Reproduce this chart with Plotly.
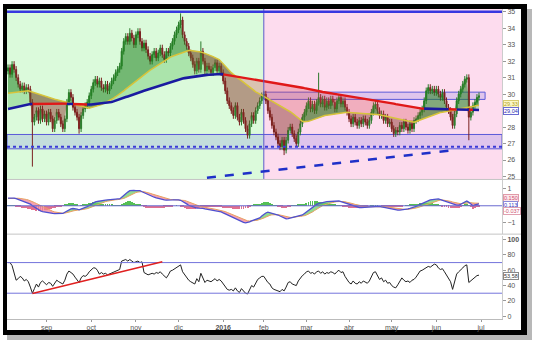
import numpy as np
import pandas as pd
import plotly.graph_objects as go

W, H = 533, 344

# ---------------- data ----------------
HOLIDAYS = ["2015-12-25", "2016-01-01", "2016-03-25", "2016-03-28"]
FIRST_DAY, LAST_DAY = "2015-08-05", "2016-06-30"

close = [
    31.6, 31.2, 31.8, 31.5, 31.0, 30.6, 30.3, 30.5, 30.2, 30.4, 30.3, 29.5, 28.3, 28.6, 29.0, 28.4, 29.1, 28.5, 28.8,
    28.3, 28.9, 28.5, 27.9, 28.4, 28.9, 28.6, 28.2, 27.9, 28.5, 29.5, 30.1, 29.8, 29.2, 28.9, 28.6, 27.9, 28.7, 29.1, 29.3, 29.5, 29.9,
    30.3, 30.7, 30.9, 30.6, 30.8, 30.4, 30.3, 30.6, 30.2, 30.5, 30.8, 31.0, 31.3, 31.5, 31.7, 32.6, 33.2, 33.5, 33.2, 33.7, 33.4, 33.0,
    33.6, 33.8, 33.2, 32.8, 33.1, 32.7, 32.3, 32.0, 32.4, 32.6, 32.2, 32.5, 32.8, 32.4, 32.1, 32.6, 32.5, 32.9, 33.2, 33.6, 33.9,
    34.2, 34.5, 33.6, 33.2, 32.9, 32.5, 32.2, 31.8, 31.4, 32.0, 31.5, 32.6, 32.0, 31.4, 31.7, 31.5, 31.3, 31.6, 31.9, 31.4, 31.7, 31.3,
    30.8, 30.2, 29.6, 29.3, 29.0, 28.7, 29.3, 28.6, 28.3, 28.9, 28.4, 27.9, 27.5, 28.2, 28.7, 28.4, 29.0, 29.3, 29.6, 29.9,
    30.0, 29.6, 29.0, 28.6, 28.1, 27.7, 27.4, 27.0, 26.8, 27.2, 26.6, 27.2, 27.8, 28.0, 27.6, 27.3, 27.0, 27.7, 28.2, 28.6, 28.9,
    29.3, 29.6, 29.1, 29.4, 29.0, 29.5, 29.8, 29.4, 29.7, 29.2, 29.6, 29.3, 29.7, 29.5, 29.1, 29.6, 29.8, 29.4, 29.6, 29.2, 28.9,
    28.5, 28.2, 28.6, 28.3, 28.1, 28.4, 28.2, 28.5, 28.3, 28.1, 28.4, 28.9, 29.3, 29.4, 29.0, 28.7, 28.8, 28.4, 28.6, 28.2, 28.3,
    27.9, 27.6, 27.8, 27.7, 28.1, 27.9, 28.3, 28.0, 27.8, 28.2, 27.9, 28.4, 28.5, 28.7, 28.9, 29.1, 29.6, 30.2, 30.4, 30.2, 30.3, 30.1,
    30.3, 30.0, 29.8, 30.1, 29.6, 29.2, 29.0, 28.6, 28.1, 28.8, 29.6, 30.0, 30.3, 30.6, 30.9, 31.0, 28.6, 28.9, 29.3, 29.5, 29.8, 29.9,
]
open_ = [
    31.4, 31.6, 31.2, 31.8, 31.5, 31.0, 30.6, 30.3, 30.5, 30.2, 30.4, 30.3, 29.5, 28.3, 28.6, 29.0, 28.4, 29.1, 28.5,
    28.8, 28.3, 28.9, 28.5, 27.9, 28.4, 28.9, 28.6, 28.2, 27.9, 28.5, 29.5, 30.1, 29.8, 29.2, 28.9, 28.6, 27.9, 28.7, 29.1, 29.3, 29.5,
    29.9, 30.3, 30.7, 30.9, 30.6, 30.8, 30.4, 30.3, 30.6, 30.2, 30.5, 30.8, 31.0, 31.3, 31.5, 31.7, 32.6, 33.2, 33.5, 33.2, 33.7, 33.4,
    33.0, 33.6, 33.8, 33.2, 32.8, 33.1, 32.7, 32.3, 32.0, 32.4, 32.6, 32.2, 32.5, 32.8, 32.4, 32.1, 32.6, 32.5, 32.9, 33.2, 33.6,
    33.9, 34.2, 34.5, 33.6, 33.2, 32.9, 32.5, 32.2, 31.8, 31.4, 32.0, 31.5, 32.6, 32.0, 31.4, 31.7, 31.5, 31.3, 31.6, 31.9, 31.4, 31.7,
    31.3, 30.8, 30.2, 29.6, 29.3, 29.0, 28.7, 29.3, 28.6, 28.3, 28.9, 28.4, 27.9, 27.5, 28.2, 28.7, 28.4, 29.0, 29.3, 29.6,
    29.9, 30.0, 29.6, 29.0, 28.6, 28.1, 27.7, 27.4, 27.0, 26.8, 27.2, 26.6, 27.2, 27.8, 28.0, 27.6, 27.3, 27.0, 27.7, 28.2, 28.6,
    28.9, 29.3, 29.6, 29.1, 29.4, 29.0, 29.5, 29.8, 29.4, 29.7, 29.2, 29.6, 29.3, 29.7, 29.5, 29.1, 29.6, 29.8, 29.4, 29.6, 29.2,
    28.9, 28.5, 28.2, 28.6, 28.3, 28.1, 28.4, 28.2, 28.5, 28.3, 28.1, 28.4, 28.9, 29.3, 29.4, 29.0, 28.7, 28.8, 28.4, 28.6, 28.2,
    28.3, 27.9, 27.6, 27.8, 27.7, 28.1, 27.9, 28.3, 28.0, 27.8, 28.2, 27.9, 28.4, 28.5, 28.7, 28.9, 29.1, 29.6, 30.2, 30.4, 30.2, 30.3,
    30.1, 30.3, 30.0, 29.8, 30.1, 29.6, 29.2, 29.0, 28.6, 28.1, 28.8, 29.6, 30.0, 30.3, 30.6, 30.9, 31.0, 28.6, 28.9, 29.3, 29.5, 29.8,
]
high = [
    31.8, 31.8, 32.0, 32.0, 31.7, 31.2, 30.8, 30.7, 30.7, 30.6, 30.6, 30.5, 29.7, 28.8, 29.2, 29.2, 29.3, 29.3, 29.0,
    29.0, 29.1, 29.1, 28.7, 28.6, 29.1, 29.1, 28.8, 28.4, 28.7, 29.7, 30.3, 30.3, 30.0, 29.4, 29.1, 28.8, 28.9, 29.3, 29.5, 29.7, 30.1,
    30.5, 30.9, 31.1, 31.1, 31.0, 31.0, 30.6, 30.8, 30.8, 30.7, 31.0, 31.2, 31.5, 31.7, 31.9, 32.8, 33.4, 33.7, 33.7, 34.0, 33.9, 33.6,
    33.8, 34.0, 34.0, 33.4, 33.3, 33.3, 32.9, 32.5, 32.6, 32.8, 32.8, 32.7, 33.0, 33.0, 32.6, 32.8, 32.8, 33.1, 33.4, 33.8, 34.1,
    34.4, 34.9, 34.7, 33.8, 33.4, 33.1, 32.7, 32.4, 32.0, 32.2, 32.2, 33.2, 32.8, 32.2, 31.9, 31.9, 31.7, 31.8, 32.1, 32.1, 31.9, 31.9,
    31.5, 31.0, 30.4, 29.8, 29.5, 29.2, 29.5, 29.5, 28.8, 29.1, 29.1, 28.6, 28.1, 28.4, 28.9, 28.9, 29.2, 29.5, 29.8, 30.1,
    30.2, 30.2, 29.8, 29.2, 28.8, 28.3, 27.9, 27.6, 27.2, 27.4, 27.4, 27.4, 28.0, 28.2, 28.2, 27.8, 27.5, 27.9, 28.4, 28.8, 29.1,
    29.5, 29.8, 29.8, 29.6, 29.6, 29.7, 31.3, 30.0, 29.9, 29.9, 29.8, 29.8, 29.9, 29.9, 29.7, 29.8, 30.0, 30.0, 29.8, 29.8, 29.4,
    29.1, 28.7, 28.8, 28.8, 28.5, 28.6, 28.6, 28.7, 28.7, 28.5, 28.6, 29.1, 29.5, 29.6, 29.6, 29.2, 29.0, 29.0, 28.8, 28.8, 28.5,
    28.5, 28.1, 28.0, 28.0, 28.3, 28.3, 28.5, 28.5, 28.2, 28.4, 28.4, 28.6, 28.7, 28.9, 29.1, 29.3, 29.8, 30.4, 30.6, 30.6, 30.5, 30.5,
    30.5, 30.5, 30.2, 30.3, 30.3, 29.8, 29.4, 29.2, 28.8, 29.0, 29.8, 30.2, 30.5, 30.8, 31.1, 31.2, 31.2, 29.1, 29.5, 29.7, 30.0, 30.1,
]
low = [
    31.2, 31.0, 31.0, 31.3, 30.8, 30.4, 30.1, 30.1, 30.0, 30.0, 30.1, 29.3, 25.6, 28.1, 28.4, 28.2, 28.2, 28.3, 28.3,
    28.1, 28.1, 28.3, 27.7, 27.7, 28.2, 28.4, 28.0, 27.7, 27.7, 28.3, 29.3, 29.6, 29.0, 28.7, 28.4, 27.6, 27.7, 28.5, 28.9, 29.1, 29.3,
    29.7, 30.1, 30.5, 30.4, 30.4, 30.2, 30.1, 30.1, 30.0, 30.0, 30.3, 30.6, 30.8, 31.1, 31.3, 31.5, 32.4, 33.0, 33.0, 33.0, 33.2, 32.8,
    32.8, 33.4, 33.0, 32.6, 32.6, 32.5, 32.1, 31.8, 31.8, 32.2, 32.0, 32.0, 32.3, 32.2, 31.9, 31.9, 32.3, 32.3, 32.7, 33.0, 33.4,
    33.7, 34.0, 33.4, 33.0, 32.7, 32.3, 32.0, 31.6, 31.2, 31.2, 31.3, 31.3, 31.8, 31.2, 31.2, 31.3, 31.1, 31.1, 31.4, 31.2, 31.2, 31.1,
    30.6, 30.0, 29.4, 29.1, 28.8, 28.5, 28.5, 28.4, 28.1, 28.1, 28.2, 27.7, 27.3, 27.3, 28.0, 28.2, 28.2, 28.8, 29.1, 29.4,
    29.7, 29.4, 28.8, 28.4, 27.9, 27.5, 27.2, 26.8, 26.6, 26.6, 26.3, 26.4, 27.0, 27.6, 27.4, 27.1, 26.8, 26.8, 27.5, 28.0, 28.4,
    28.7, 29.1, 28.9, 28.9, 28.8, 28.8, 29.3, 29.2, 29.2, 29.0, 29.0, 29.1, 29.1, 29.3, 28.9, 28.9, 29.4, 29.2, 29.2, 29.0, 28.7,
    28.3, 28.0, 28.0, 28.1, 27.9, 27.9, 28.0, 28.0, 28.1, 27.9, 27.9, 28.2, 28.7, 29.1, 28.8, 28.5, 28.5, 28.2, 28.2, 28.0, 28.0,
    27.7, 27.4, 27.4, 27.5, 27.5, 27.7, 27.7, 27.8, 27.6, 27.6, 27.7, 27.7, 28.2, 28.3, 28.5, 28.7, 28.9, 29.4, 30.0, 30.0, 30.0, 29.9,
    29.9, 29.8, 29.6, 29.6, 29.4, 29.0, 28.8, 28.4, 27.9, 27.9, 28.6, 29.4, 29.8, 30.1, 30.4, 30.7, 27.2, 28.4, 28.7, 29.1, 29.3, 29.6,
]
ma_fast = [
    30.05, 30.07, 30.08, 30.1, 30.11, 30.13, 30.14, 30.16, 30.17, 30.19, 30.2,
    30.16, 30.12, 30.07, 30.02, 29.97, 29.93, 29.89, 29.85,
    29.82, 29.79, 29.76, 29.72, 29.69, 29.66, 29.63, 29.6, 29.56, 29.53, 29.5,
    29.47, 29.43, 29.4, 29.37, 29.33, 29.3, 29.27, 29.24, 29.21, 29.18, 29.15,
    29.18, 29.21, 29.24, 29.27, 29.3, 29.36, 29.42, 29.48, 29.54, 29.6,
    29.68, 29.76, 29.84, 29.92, 30.0, 30.1, 30.2, 30.3, 30.4, 30.5,
    30.6, 30.7, 30.8, 30.9, 31.0, 31.09, 31.18, 31.27, 31.36, 31.45,
    31.53, 31.61, 31.69, 31.77, 31.85, 31.94, 32.03, 32.11, 32.2,
    32.25, 32.3, 32.35, 32.4, 32.45, 32.49, 32.53, 32.57, 32.61, 32.65,
    32.65, 32.64, 32.63, 32.62, 32.6, 32.56, 32.52, 32.48, 32.44, 32.4,
    32.34, 32.28, 32.22, 32.16, 32.1, 31.97, 31.83, 31.7, 31.57, 31.43, 31.3,
    31.2, 31.1, 31.0, 30.9, 30.8, 30.7, 30.6, 30.5, 30.4, 30.3, 30.2,
    30.14, 30.08, 30.01, 29.95, 29.87, 29.78, 29.7, 29.64, 29.58, 29.52, 29.46, 29.4,
    29.32, 29.24, 29.16, 29.09, 29.01, 28.93, 28.85, 28.75, 28.65, 28.55, 28.45, 28.35,
    28.33, 28.33, 28.35, 28.39, 28.44, 28.48, 28.53, 28.57, 28.61, 28.66, 28.7,
    28.72, 28.74, 28.76, 28.78, 28.8, 28.82, 28.84, 28.86, 28.88, 28.9,
    28.9, 28.89, 28.88, 28.88, 28.87, 28.86, 28.85,
    28.84, 28.84, 28.83, 28.82, 28.82, 28.81, 28.8, 28.8,
    28.77, 28.75, 28.72, 28.69, 28.66, 28.64, 28.61, 28.58, 28.56, 28.53, 28.5,
    28.47, 28.45, 28.42, 28.4, 28.37, 28.35, 28.33, 28.3,
    28.34, 28.38, 28.42, 28.46, 28.5, 28.55, 28.6, 28.65, 28.7, 28.75, 28.8, 28.85,
    28.88, 28.9, 28.93, 28.95, 28.98, 29.0, 29.02, 29.04, 29.06, 29.08, 29.11, 29.13, 29.15,
    29.18, 29.2, 29.23, 29.26, 29.28, 29.31, 29.33,
]
ma_slow = [
    29.1, 29.13, 29.15, 29.18, 29.2, 29.23, 29.26, 29.29, 29.31, 29.34, 29.37, 29.4,
    29.4, 29.4, 29.4, 29.4, 29.41, 29.41, 29.41, 29.41, 29.41, 29.41, 29.42, 29.42, 29.42, 29.42, 29.42, 29.42, 29.42, 29.42,
    29.41, 29.41, 29.4, 29.4, 29.39, 29.39, 29.38, 29.38, 29.37, 29.37, 29.36,
    29.37, 29.39, 29.4, 29.41, 29.43, 29.44, 29.46, 29.47, 29.49, 29.5, 29.52,
    29.56, 29.61, 29.65, 29.69, 29.74, 29.78, 29.82, 29.86, 29.91, 29.95, 29.99, 30.03, 30.08, 30.12,
    30.16, 30.2, 30.24, 30.28, 30.32, 30.36, 30.4, 30.44, 30.48, 30.52,
    30.56, 30.6, 30.65, 30.69, 30.73, 30.77, 30.81, 30.86, 30.9,
    30.92, 30.95, 30.97, 30.99, 31.02, 31.04, 31.06, 31.08, 31.11, 31.13,
    31.14, 31.15, 31.16, 31.17, 31.18, 31.19, 31.2, 31.21, 31.22, 31.23,
    31.22, 31.2, 31.18, 31.16, 31.15, 31.13,
    31.11, 31.09, 31.07, 31.05, 31.03, 31.01, 30.99, 30.97, 30.95, 30.93, 30.91, 30.89, 30.87, 30.85,
    30.83, 30.81, 30.79, 30.77, 30.75, 30.73, 30.71, 30.69, 30.67, 30.65, 30.62, 30.6, 30.58, 30.56, 30.54, 30.52,
    30.49, 30.47, 30.44, 30.42, 30.39, 30.36, 30.34, 30.31, 30.29, 30.26, 30.23, 30.21, 30.18, 30.16, 30.13, 30.1,
    30.08, 30.06, 30.05, 30.03, 30.01, 29.99, 29.98, 29.96, 29.94, 29.92, 29.91, 29.89, 29.87, 29.85, 29.84, 29.82, 29.8,
    29.78, 29.75, 29.73, 29.71, 29.69, 29.66, 29.64, 29.62, 29.6, 29.57, 29.55, 29.53, 29.51, 29.48, 29.46, 29.44,
    29.42, 29.39, 29.37, 29.34, 29.32, 29.3, 29.27, 29.25, 29.22, 29.2, 29.18, 29.15, 29.13,
    29.13, 29.12, 29.12, 29.12, 29.11, 29.11, 29.11, 29.1, 29.1, 29.1, 29.09, 29.09, 29.09, 29.08, 29.08,
    29.08, 29.07, 29.07, 29.07, 29.06, 29.06, 29.06, 29.06, 29.05, 29.05, 29.05, 29.05, 29.04, 29.04, 29.04,
]
macd = [
    0.45, 0.46, 0.46, 0.45, 0.42, 0.38, 0.34, 0.3, 0.26, 0.22, 0.17, 0.1,
    0.0, -0.08, -0.15, -0.23, -0.3,
    -0.34, -0.37, -0.4, -0.42, -0.44, -0.45, -0.46, -0.46, -0.45, -0.46, -0.45,
    -0.38, -0.3, -0.22, -0.18, -0.16, -0.17, -0.2, -0.24, -0.2, -0.15, -0.1, -0.05,
    0.02, 0.1, 0.18, 0.23, 0.25, 0.28, 0.3, 0.31, 0.33, 0.35, 0.37,
    0.38, 0.38, 0.39, 0.4, 0.4,
    0.5, 0.62, 0.72, 0.8, 0.88, 0.9, 0.9, 0.89, 0.88, 0.88,
    0.82, 0.76, 0.7, 0.65, 0.6, 0.55, 0.5, 0.46, 0.42, 0.39, 0.36, 0.34, 0.33, 0.32,
    0.33, 0.34, 0.35, 0.36, 0.35, 0.32, 0.26, 0.19, 0.11, 0.03,
    -0.02, -0.07, -0.11, -0.13, -0.14, -0.13, -0.15, -0.18, -0.2, -0.22, -0.24, -0.25, -0.27, -0.28, -0.3,
    -0.36, -0.42, -0.48, -0.54, -0.59, -0.64, -0.7, -0.76, -0.82, -0.88, -0.93, -0.97, -1.0,
    -0.98, -0.94, -0.88, -0.83, -0.79, -0.75, -0.71, -0.6, -0.5, -0.42, -0.37,
    -0.4, -0.44, -0.48, -0.51, -0.54, -0.6, -0.67, -0.73, -0.77,
    -0.75, -0.72, -0.66, -0.64, -0.62, -0.6, -0.57, -0.54,
    -0.45, -0.36, -0.26, -0.16, -0.06, 0.02, 0.08, 0.13, 0.17, 0.2, 0.22,
    0.24, 0.25, 0.26, 0.27, 0.27, 0.28, 0.28,
    0.24, 0.2, 0.16, 0.12, 0.08, 0.04, 0.0, -0.04, -0.07, -0.1,
    -0.1, -0.09, -0.08, -0.07, -0.05, -0.04, -0.02, -0.01, 0.0,
    -0.03, -0.06, -0.09, -0.12, -0.15, -0.18, -0.2, -0.22, -0.24, -0.26,
    -0.25, -0.24, -0.22, -0.2, -0.18, -0.15, -0.12, -0.1,
    -0.04, 0.02, 0.08, 0.14, 0.2, 0.26, 0.31,
    0.34, 0.36, 0.38, 0.39, 0.4,
    0.36, 0.32, 0.28, 0.23, 0.18, 0.14,
    0.1, 0.06, 0.04, 0.03,
    0.1, 0.17, 0.23, 0.28,
    0.2, 0.1, 0.0, 0.05, 0.09, 0.113,
]
signal = [
    0.42, 0.43, 0.44, 0.44, 0.44, 0.44, 0.43, 0.42, 0.4, 0.37, 0.34, 0.3,
    0.25, 0.19, 0.13, 0.07, 0.0,
    -0.06, -0.12, -0.18, -0.23, -0.28, -0.32, -0.36, -0.39, -0.41, -0.43, -0.44,
    -0.43, -0.41, -0.38, -0.34, -0.3, -0.27, -0.25, -0.24, -0.23, -0.22, -0.2, -0.17,
    -0.13, -0.08, -0.03, 0.03, 0.08, 0.13, 0.17, 0.21, 0.24, 0.27, 0.3,
    0.32, 0.34, 0.35, 0.36, 0.37,
    0.39, 0.43, 0.48, 0.54, 0.61, 0.67, 0.73, 0.77, 0.8, 0.83,
    0.83, 0.82, 0.8, 0.77, 0.73, 0.69, 0.65, 0.61, 0.57, 0.53, 0.49, 0.45, 0.42, 0.39,
    0.37, 0.36, 0.35, 0.35, 0.35, 0.35, 0.34, 0.31, 0.27, 0.22,
    0.16, 0.11, 0.06, 0.02, -0.02, -0.05, -0.07, -0.1, -0.12, -0.14, -0.16, -0.18, -0.2, -0.22, -0.24,
    -0.27, -0.3, -0.34, -0.39, -0.44, -0.49, -0.54, -0.59, -0.65, -0.7, -0.75, -0.8, -0.85,
    -0.88, -0.89, -0.89, -0.88, -0.86, -0.84, -0.81, -0.77, -0.72, -0.66, -0.6,
    -0.56, -0.53, -0.52, -0.52, -0.52, -0.54, -0.57, -0.6, -0.64,
    -0.67, -0.68, -0.68, -0.67, -0.66, -0.65, -0.63, -0.61,
    -0.58, -0.54, -0.49, -0.43, -0.36, -0.28, -0.2, -0.12, -0.05, 0.01, 0.06,
    0.1, 0.14, 0.17, 0.2, 0.22, 0.24, 0.25,
    0.25, 0.25, 0.23, 0.21, 0.18, 0.15, 0.12, 0.08, 0.05, 0.02,
    -0.01, -0.03, -0.04, -0.05, -0.05, -0.05, -0.05, -0.04, -0.03,
    -0.03, -0.03, -0.04, -0.05, -0.07, -0.09, -0.11, -0.13, -0.16, -0.18,
    -0.2, -0.21, -0.22, -0.22, -0.21, -0.2, -0.18, -0.16,
    -0.13, -0.1, -0.06, -0.02, 0.03, 0.08, 0.13,
    0.18, 0.22, 0.26, 0.29, 0.32,
    0.34, 0.34, 0.33, 0.31, 0.29, 0.26,
    0.22, 0.19, 0.16, 0.13,
    0.12, 0.13, 0.15, 0.18,
    0.19, 0.18, 0.16, 0.15, 0.15, 0.15,
]
rsi = [
    70, 70, 66, 58, 47, 49, 52, 50, 46, 48, 45, 38, 30,
    36, 42, 38, 44, 46, 44, 41, 44, 43, 39, 44, 47, 45, 43, 42, 47, 55,
    59, 57, 55, 51, 48, 44, 50, 53, 52, 54, 58, 61, 63,
    63, 60, 55, 57, 55, 56, 54, 55, 57, 58, 59, 60, 61,
    72, 73, 74, 72, 74, 72, 70, 71, 72, 70, 71,
    57, 56, 54, 55, 56, 55, 57, 56, 58, 55, 52, 50, 54, 59, 60, 62, 64,
    65, 67, 58, 54, 50, 47, 45, 44, 42, 49, 45, 56, 50, 44, 47, 46, 45, 47, 49, 46, 48, 46,
    42, 38, 35, 34, 35, 33, 37, 33, 31, 36, 33, 30, 29, 35, 40, 38, 44, 48, 50, 52,
    52, 48, 44, 42, 37, 35, 34, 33, 32, 35, 33, 38, 44, 45, 42, 41, 40, 46, 50, 53, 55,
    58, 59, 56, 57, 55, 58, 59, 56, 58, 55, 57, 56, 58, 57, 55, 58, 60, 57, 58, 52, 48,
    44, 42, 46, 43, 42, 45, 43, 46, 44, 43, 46, 52, 57, 58, 52, 48, 50, 45, 47, 43, 44,
    40, 38, 37, 41, 46, 50, 47, 45, 46, 44, 47, 48, 51, 55, 59, 60, 62, 63, 65, 64, 66, 68,
    67, 63, 61, 62, 58, 54, 50, 45, 35, 44, 55, 58, 60, 63, 66, 67, 44, 46, 49, 51, 53, 53.58,
]

# horizontal zones / lines on the price panel
support_zone = [26.68, 27.55]
support_line = 26.8
resist_zone = [29.68, 30.12]
top_line = 35.0
split_date = "2016-02-01"
resist_end = "2016-07-05"
trend_price = [["2015-12-21", 24.92], ["2016-06-09", 26.57]]
trend_rsi = [["2015-08-21", 29.5], ["2015-11-19", 71.0]]
rsi_levels = [30, 70]

month_ticks = ["2015-09-01", "2015-10-01", "2015-11-02", "2015-12-01", "2016-01-04", "2016-02-01",
               "2016-03-01", "2016-04-01", "2016-05-02", "2016-06-01", "2016-07-01"]
month_labels = ["sep", "oct", "nov", "dic", "<b>2016</b>", "feb", "mar", "abr", "may", "jun", "jul"]
price_ticks = [25, 26, 27, 28, 29, 30, 31, 32, 33, 34, 35]
price_tick_text = ["25", "26", "27", "28", "", "30", "31", "32", "33", "34", "35"]  # "29" sits under the value tags
macd_ticks = [-1, 1]
rsi_ticks = [0, 20, 40, 60, 80, 100]
rsi_tick_text = ["0", "20", "40", "60", "80", "<b>100</b>"]

last_fast_label, last_slow_label = "29,33", "29,04"
macd_labels = ["0.150", "0.113", "-0.037"]
rsi_label = "53,58"

# ---------------- build ----------------
dates = [d for d in pd.bdate_range(FIRST_DAY, LAST_DAY) if d.strftime("%Y-%m-%d") not in HOLIDAYS]
n = min(len(dates), len(close), len(open_), len(high), len(low), len(ma_fast), len(ma_slow),
        len(macd), len(signal), len(rsi))
dates = dates[:n]
c = np.array(close[:n]); f = np.array(ma_fast[:n]); s = np.array(ma_slow[:n])
m = np.array(macd[:n]); sg = np.array(signal[:n])


def px_x(p):
    return p / W


def px_y(p):
    return 1 - p / H


X_RANGE = ["2015-08-04 12:00", "2016-07-15 08:00"]
RB = [dict(bounds=["sat", "mon"]), dict(values=HOLIDAYS)]
XDOM = [px_x(7), px_x(502)]
FONT = "Liberation Sans, Arial, sans-serif"

fig = go.Figure()


def band(base, edge, color, xa, ya):
    fig.add_trace(go.Scatter(x=dates, y=base, mode="lines", line=dict(width=0, color="rgba(0,0,0,0)"),
                             hoverinfo="skip", showlegend=False, xaxis=xa, yaxis=ya))
    fig.add_trace(go.Scatter(x=dates, y=edge, mode="lines", line=dict(width=0, color="rgba(0,0,0,0)"),
                             fill="tonexty", fillcolor=color, hoverinfo="skip", showlegend=False,
                             xaxis=xa, yaxis=ya))


# price panel fills
band(s, np.maximum(f, s), "rgba(70,185,70,0.32)", "x", "y")
band(s, np.minimum(f, s), "rgba(215,70,80,0.30)", "x", "y")
band(f, np.maximum(c, f), "rgba(30,130,30,0.55)", "x", "y")
band(f, np.minimum(c, f), "rgba(130,40,30,0.45)", "x", "y")

fig.add_trace(go.Candlestick(
    x=dates, open=open_[:n], high=high[:n], low=low[:n], close=close[:n],
    increasing=dict(line=dict(color="#2b7a2b", width=1), fillcolor="#2f8f2f"),
    decreasing=dict(line=dict(color="#7a2020", width=1), fillcolor="#8a2424"),
    whiskerwidth=0, showlegend=False, hoverinfo="skip", xaxis="x", yaxis="y"))

fig.add_trace(go.Scatter(x=dates, y=f, mode="lines", line=dict(color="#d8c43a", width=1.5),
                         hoverinfo="skip", showlegend=False, xaxis="x", yaxis="y"))
above = c > s
red_y = [s[i] if ((not above[i]) or (i > 0 and not above[i - 1])) else None for i in range(n)]
blue_y = [s[i] if (above[i] or (i > 0 and above[i - 1])) else None for i in range(n)]
fig.add_trace(go.Scatter(x=dates, y=red_y, mode="lines", line=dict(color="#e01818", width=2.4),
                         hoverinfo="skip", showlegend=False, xaxis="x", yaxis="y"))
fig.add_trace(go.Scatter(x=dates, y=blue_y, mode="lines", line=dict(color="#1a1aa0", width=2.6),
                         hoverinfo="skip", showlegend=False, xaxis="x", yaxis="y"))

# MACD panel
band(sg, np.maximum(m, sg), "rgba(110,205,110,0.75)", "x2", "y2")
band(sg, np.minimum(m, sg), "rgba(240,130,150,0.75)", "x2", "y2")
hist = m - sg
fig.add_trace(go.Bar(x=dates, y=hist, marker=dict(color=["#55c055" if v >= 0 else "#e07090" for v in hist],
                                                 line=dict(width=0)),
                     width=0.45 * 86400000, hoverinfo="skip", showlegend=False, xaxis="x2", yaxis="y2"))
fig.add_trace(go.Scatter(x=dates, y=sg, mode="lines", line=dict(color="#e8a060", width=1),
                         hoverinfo="skip", showlegend=False, xaxis="x2", yaxis="y2"))
fig.add_trace(go.Scatter(x=dates, y=m, mode="lines", line=dict(color="#5050d0", width=1.3),
                         hoverinfo="skip", showlegend=False, xaxis="x2", yaxis="y2"))

# RSI panel
fig.add_trace(go.Scatter(x=dates, y=rsi[:n], mode="lines", line=dict(color="#222222", width=1),
                         hoverinfo="skip", showlegend=False, xaxis="x3", yaxis="y3"))

shapes = []
# frame: shadow, black border, white inside
shapes.append(dict(type="rect", xref="paper", yref="paper", x0=px_x(7), x1=px_x(532), y0=px_y(341), y1=px_y(8),
                   fillcolor="#b8b8b8", line=dict(width=0), layer="below"))
shapes.append(dict(type="rect", xref="paper", yref="paper", x0=px_x(3), x1=px_x(527), y0=px_y(336), y1=px_y(3),
                   fillcolor="#000000", line=dict(width=0), layer="below"))
shapes.append(dict(type="rect", xref="paper", yref="paper", x0=px_x(7), x1=px_x(521), y0=px_y(331), y1=px_y(8),
                   fillcolor="#ffffff", line=dict(width=0), layer="below"))
# price panel backgrounds
shapes.append(dict(type="rect", xref="x", yref="y domain", x0=X_RANGE[0], x1=split_date, y0=0, y1=1,
                   fillcolor="#dbfadb", line=dict(width=0), layer="below"))
shapes.append(dict(type="rect", xref="x", yref="y domain", x0=split_date, x1=X_RANGE[1], y0=0, y1=1,
                   fillcolor="#fddcee", line=dict(width=0), layer="below"))
shapes.append(dict(type="rect", xref="x", yref="y", x0=X_RANGE[0], x1=X_RANGE[1],
                   y0=support_zone[0], y1=support_zone[1],
                   fillcolor="rgba(90,90,225,0.18)", line=dict(color="#5a5ad8", width=1), layer="below"))
shapes.append(dict(type="line", xref="x", yref="y", x0=X_RANGE[0], x1=X_RANGE[1], y0=support_line, y1=support_line,
                   line=dict(color="#3a3ad8", width=2, dash="dot")))
shapes.append(dict(type="rect", xref="x", yref="y", x0=split_date, x1=resist_end,
                   y0=resist_zone[0], y1=resist_zone[1],
                   fillcolor="rgba(120,120,230,0.22)", line=dict(color="#5a5ad8", width=1), layer="below"))
shapes.append(dict(type="line", xref="x", yref="y domain", x0=split_date, x1=split_date, y0=0, y1=1,
                   line=dict(color="#5a5ac8", width=1)))
shapes.append(dict(type="line", xref="x", yref="y", x0=X_RANGE[0], x1=X_RANGE[1], y0=top_line, y1=top_line,
                   line=dict(color="#3838e0", width=2.5)))
shapes.append(dict(type="line", xref="x", yref="y", x0=trend_price[0][0], y0=trend_price[0][1],
                   x1=trend_price[1][0], y1=trend_price[1][1], line=dict(color="#1f30c8", width=2.5, dash="dash")))
# MACD zero line
shapes.append(dict(type="line", xref="x2 domain", yref="y2", x0=0, x1=1, y0=0, y1=0,
                   line=dict(color="#6a6ad0", width=1)))
# RSI levels + trend
for lv in rsi_levels:
    shapes.append(dict(type="line", xref="x3 domain", yref="y3", x0=0, x1=1, y0=lv, y1=lv,
                       line=dict(color="#7474dc", width=1)))
shapes.append(dict(type="line", xref="x3", yref="y3", x0=trend_rsi[0][0], y0=trend_rsi[0][1],
                   x1=trend_rsi[1][0], y1=trend_rsi[1][1], line=dict(color="#e02020", width=1.5)))
# panel separators
for yp in (179.5, 234.5):
    shapes.append(dict(type="line", xref="paper", yref="paper", x0=px_x(7), x1=px_x(521), y0=px_y(yp), y1=px_y(yp),
                       line=dict(color="#c4c4c4", width=1)))

ann = []


def tag(text, y, yref, color, bg, border, size=5.5):
    ann.append(dict(text=text, xref="paper", x=px_x(503), xanchor="left", yref=yref, y=y, yanchor="middle",
                    showarrow=False, font=dict(family=FONT, size=size, color=color),
                    bgcolor=bg, bordercolor=border, borderwidth=1, borderpad=0))


tag(last_fast_label, f[-1] + 0.07, "y", "#b0a020", "#fbf7c8", "#d8cc70")
tag(last_slow_label, s[-1] - 0.06, "y", "#2a2ab0", "#ffffff", "#6a6ad0")
tag(macd_labels[0], 0.44, "y2", "#d05070", "#fbe6ea", "#e09aa8")
tag(macd_labels[1], 0.06, "y2", "#3a3ac0", "#ffffff", "#8a8ad8")
tag(macd_labels[2], -0.32, "y2", "#d05070", "#ffffff", "#e0a0b0")
tag(rsi_label, rsi[n - 1] - 1.2, "y3", "#333333", "#ffffff", "#888888")

axis_font = dict(family=FONT, size=7, color="#555555")
common_x = dict(range=X_RANGE, rangebreaks=RB, domain=XDOM, showgrid=False, zeroline=False,
                rangeslider=dict(visible=False), fixedrange=True)
common_y = dict(side="right", showgrid=False, zeroline=False, ticks="outside", ticklen=3, tickcolor="#999999",
                tickfont=axis_font, showline=True, linecolor="#cccccc", linewidth=1, fixedrange=True)

fig.update_layout(
    width=W, height=H, autosize=False,
    margin=dict(l=0, r=0, t=0, b=0, pad=0),
    paper_bgcolor="#ffffff", plot_bgcolor="rgba(0,0,0,0)",
    showlegend=False, hovermode=False, bargap=0,
    xaxis=dict(common_x, anchor="y", showticklabels=False, ticks=""),
    xaxis2=dict(common_x, anchor="y2", showticklabels=False, ticks=""),
    xaxis3=dict(common_x, anchor="y3", tickvals=month_ticks, ticktext=month_labels, ticks="outside",
                ticklen=2, tickcolor="#999999", tickfont=axis_font, showline=True, linecolor="#bbbbbb"),
    yaxis=dict(common_y, anchor="x", domain=[px_y(179), px_y(8)], range=[24.85, 35.17], tickvals=price_ticks,
               ticktext=price_tick_text),
    yaxis2=dict(common_y, anchor="x2", domain=[px_y(234), px_y(180)], range=[-1.63, 1.51], tickvals=macd_ticks),
    yaxis3=dict(common_y, anchor="x3", domain=[px_y(319.5), px_y(236)], range=[-3.2, 105.2], tickvals=rsi_ticks,
                ticktext=rsi_tick_text),
    shapes=shapes, annotations=ann,
)

fig.write_html("out.html")
